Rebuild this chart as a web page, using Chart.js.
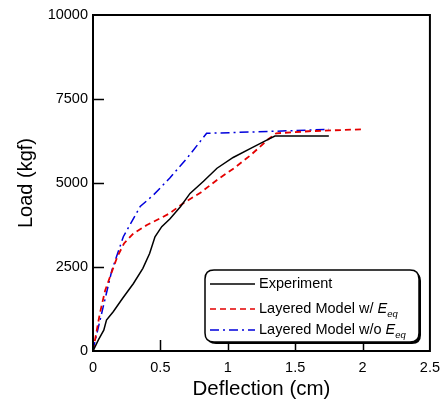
<!DOCTYPE html>
<html>
<head>
<meta charset="utf-8">
<script src="https://cdn.jsdelivr.net/npm/chart.js@4/dist/chart.umd.min.js"></script>
<style>
  html, body { margin: 0; padding: 0; background: #fff; }
  #wrap { width: 448px; height: 400px; }
</style>
</head>
<body>
<div id="wrap"><canvas id="myChart" width="448" height="400"></canvas></div>
<script>
// deflection (cm) / load (kgf)
var expX = [0, 0.04, 0.08, 0.1, 0.15, 0.22, 0.3, 0.37, 0.42, 0.46, 0.51, 0.57, 0.65, 0.72, 0.82, 0.92, 1.04, 1.17, 1.3, 1.35, 1.75];
var expY = [0, 330, 620, 920, 1170, 1570, 2010, 2460, 2900, 3400, 3700, 3930, 4300, 4690, 5050, 5440, 5760, 6030, 6300, 6400, 6400];

var withX = [0, 0.05, 0.09, 0.13, 0.18, 0.23, 0.3, 0.4, 0.5, 0.57, 0.67, 0.8, 0.92, 1.05, 1.17, 1.3, 1.36, 1.6, 2.0];
var withY = [0, 1100, 1800, 2250, 2800, 3200, 3500, 3750, 3950, 4100, 4400, 4720, 5090, 5450, 5830, 6300, 6480, 6540, 6600];

var woX = [0, 0.01, 0.076, 0.14, 0.225, 0.35, 0.45, 0.57, 0.7, 0.843, 1.2, 1.5, 1.75];
var woY = [0, 200, 1320, 2400, 3400, 4300, 4650, 5150, 5750, 6480, 6520, 6560, 6600];

var xTicks = [0, 0.5, 1, 1.5, 2, 2.5];
var yTicks = [0, 2500, 5000, 7500, 10000];

var seriesNames = ["Experiment", "Layered Model w/ ", "Layered Model w/o "];

function pts(xs, ys) {
  var out = [];
  for (var i = 0; i < xs.length; i++) out.push({ x: xs[i], y: ys[i] });
  return out;
}

var FONT = "'Liberation Sans', Arial, sans-serif";
var RED = "rgb(228, 0, 0)";
var BLUE = "rgb(0, 0, 220)";

// frame, inward ticks and the legend box
var framePlugin = {
  id: "framePlugin",
  afterDraw: function (chart) {
    var ctx = chart.ctx;
    var a = chart.chartArea;
    var xs = chart.scales.x, ys = chart.scales.y;
    ctx.save();
    ctx.strokeStyle = "#000";
    ctx.lineWidth = 2;
    ctx.strokeRect(a.left, a.top, a.right - a.left, a.bottom - a.top);

    ctx.lineWidth = 1.5;
    ctx.beginPath();
    xTicks.forEach(function (v) {
      if (v === xTicks[0] || v === xTicks[xTicks.length - 1]) return;
      var px = Math.round(xs.getPixelForValue(v)) + 0.5;
      ctx.moveTo(px, a.bottom);
      ctx.lineTo(px, a.bottom - 11);
    });
    yTicks.forEach(function (v) {
      if (v === yTicks[0] || v === yTicks[yTicks.length - 1]) return;
      var py = Math.round(ys.getPixelForValue(v)) + 0.5;
      ctx.moveTo(a.left, py);
      ctx.lineTo(a.left + 11, py);
    });
    ctx.stroke();

    // legend
    var bx = 205, by = 270, bw = 214, bh = 72, r = 9;
    function rr(x, y, w, h) {
      ctx.beginPath();
      ctx.moveTo(x + r, y);
      ctx.lineTo(x + w - r, y);
      ctx.quadraticCurveTo(x + w, y, x + w, y + r);
      ctx.lineTo(x + w, y + h - r);
      ctx.quadraticCurveTo(x + w, y + h, x + w - r, y + h);
      ctx.lineTo(x + r, y + h);
      ctx.quadraticCurveTo(x, y + h, x, y + h - r);
      ctx.lineTo(x, y + r);
      ctx.quadraticCurveTo(x, y, x + r, y);
      ctx.closePath();
    }
    ctx.lineWidth = 1.5;
    ctx.strokeStyle = "#000";
    rr(bx + 2, by + 2, bw, bh);
    ctx.fillStyle = "#000";
    ctx.fill();
    rr(bx, by, bw, bh);
    ctx.fillStyle = "#fff";
    ctx.fill();
    ctx.stroke();

    var rows = [by + 14, by + 39, by + 60];
    var styles = [
      { color: "#000", dash: [] },
      { color: RED, dash: [6, 4] },
      { color: BLUE, dash: [9, 4, 2, 4] }
    ];
    for (var i = 0; i < 3; i++) {
      ctx.strokeStyle = styles[i].color;
      ctx.setLineDash(styles[i].dash);
      ctx.lineWidth = 1.5;
      ctx.beginPath();
      ctx.moveTo(bx + 5, rows[i]);
      ctx.lineTo(bx + 50, rows[i]);
      ctx.stroke();
      ctx.setLineDash([]);

      ctx.fillStyle = "#000";
      ctx.textBaseline = "middle";
      ctx.textAlign = "left";
      ctx.font = "14.5px " + FONT;
      var tx = bx + 54;
      ctx.fillText(seriesNames[i], tx, rows[i]);
      if (i > 0) {
        tx += ctx.measureText(seriesNames[i]).width;
        ctx.font = "italic 14.5px " + FONT;
        ctx.fillText("E", tx, rows[i]);
        tx += ctx.measureText("E").width;
        ctx.font = "italic 9.5px " + FONT;
        ctx.fillText("eq", tx, rows[i] + 5);
      }
    }
    ctx.restore();
  }
};

var ctx = document.getElementById("myChart");
var myChart = new Chart(ctx, {
  type: "scatter",
  data: {
    datasets: [
      {
        label: seriesNames[0],
        data: pts(expX, expY),
        showLine: true,
        borderColor: "#000",
        borderWidth: 1.5,
        pointRadius: 0,
        tension: 0
      },
      {
        label: seriesNames[1],
        data: pts(withX, withY),
        showLine: true,
        borderColor: RED,
        borderWidth: 1.8,
        borderDash: [6, 4],
        pointRadius: 0,
        tension: 0
      },
      {
        label: seriesNames[2],
        data: pts(woX, woY),
        showLine: true,
        borderColor: BLUE,
        borderWidth: 1.5,
        borderDash: [9, 4, 2, 4],
        pointRadius: 0,
        tension: 0
      }
    ]
  },
  options: {
    responsive: false,
    animation: false,
    layout: { padding: { top: 15, right: 18, bottom: 0, left: 0 } },
    plugins: {
      legend: { display: false },
      tooltip: { enabled: false }
    },
    scales: {
      x: {
        type: "linear",
        min: 0,
        max: 2.5,
        afterFit: function (s) { s.height = 49; },
        afterBuildTicks: function (s) { s.ticks = xTicks.map(function (v) { return { value: v }; }); },
        grid: { display: false, drawTicks: false },
        border: { display: false },
        ticks: {
          color: "#000",
          padding: 8,
          maxRotation: 0,
          font: { family: FONT, size: 14.5 },
          callback: function (v) { return String(v); }
        },
        title: {
          display: true,
          text: "Deflection (cm)",
          color: "#000",
          font: { family: FONT, size: 20.5 },
          padding: { top: 0, bottom: -2 }
        }
      },
      y: {
        type: "linear",
        min: 0,
        max: 10000,
        afterFit: function (s) { s.width = 93; },
        afterBuildTicks: function (s) { s.ticks = yTicks.map(function (v) { return { value: v }; }); },
        grid: { display: false, drawTicks: false },
        border: { display: false },
        ticks: {
          color: "#000",
          padding: 5,
          font: { family: FONT, size: 14.5 },
          callback: function (v) { return String(v); }
        },
        title: {
          display: true,
          text: "Load (kgf)",
          color: "#000",
          font: { family: FONT, size: 20 },
          padding: { top: 14, bottom: 0 }
        }
      }
    }
  },
  plugins: [framePlugin]
});
</script>
</body>
</html>
